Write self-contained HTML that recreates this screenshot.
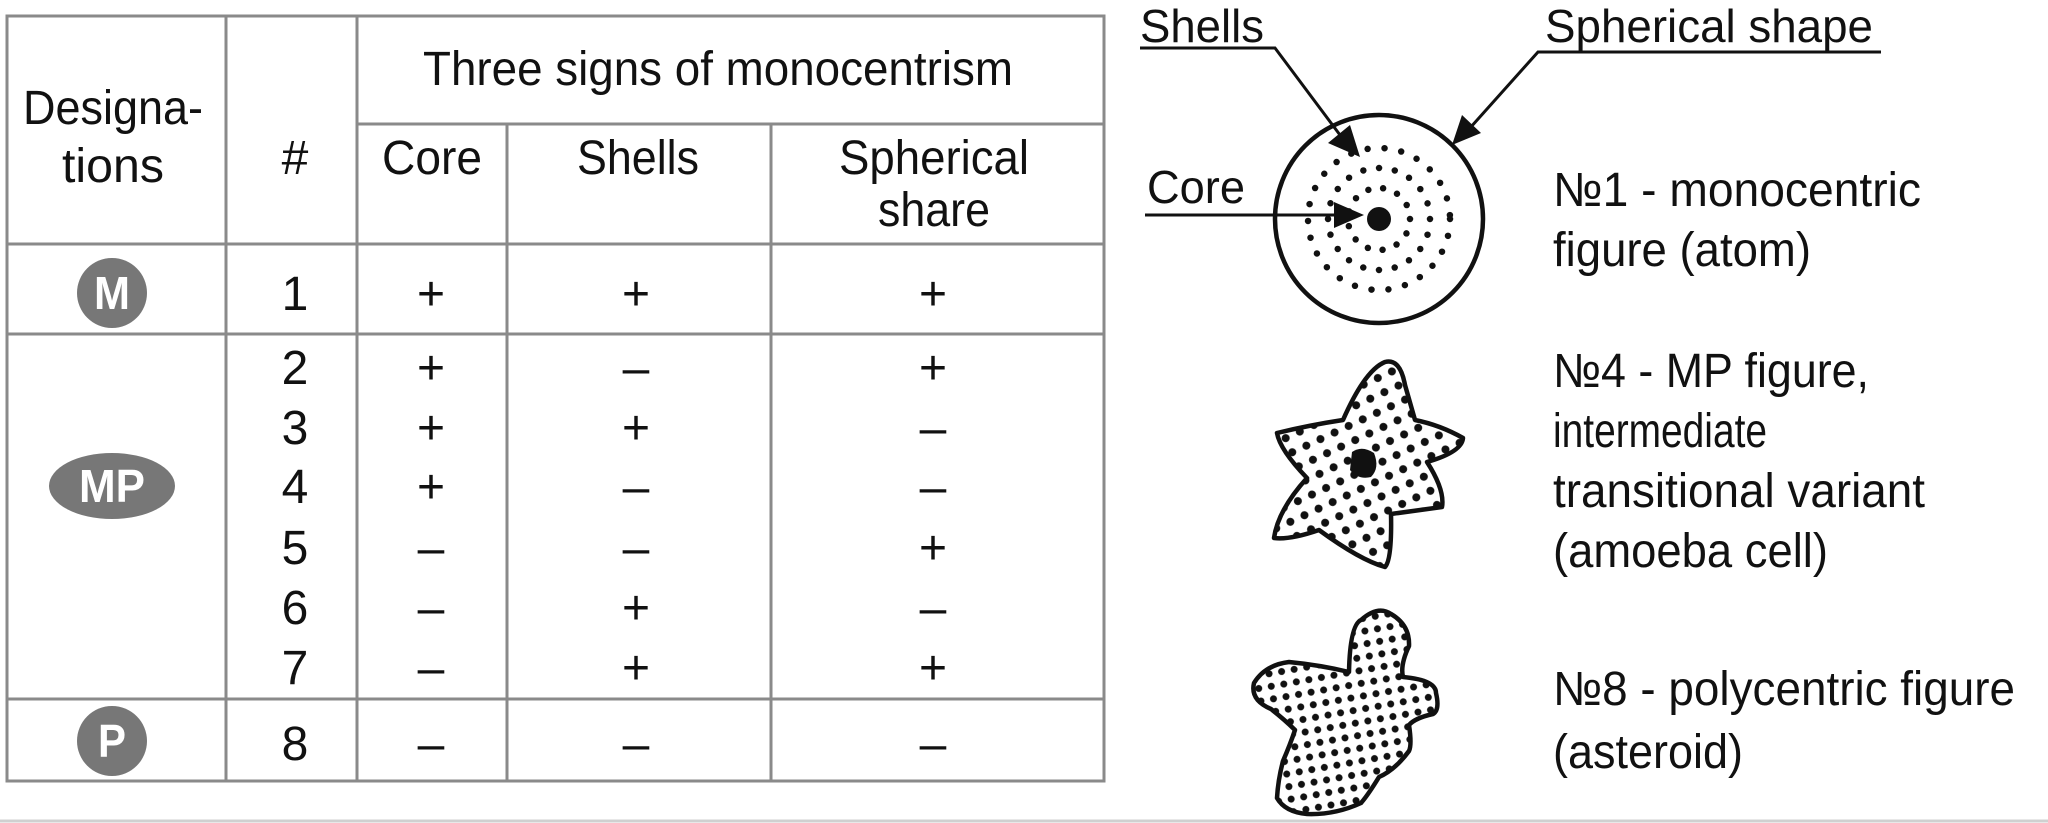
<!DOCTYPE html>
<html><head><meta charset="utf-8"><style>
html,body{margin:0;padding:0;background:#fff;}
svg{display:block;}
text{font-family:"Liberation Sans",Arial,sans-serif;fill:#111;}
</style></head><body>
<svg width="2048" height="823" viewBox="0 0 2048 823" xmlns="http://www.w3.org/2000/svg">
<defs>
<pattern id="dots" width="22" height="22" patternUnits="userSpaceOnUse" patternTransform="rotate(20)">
<circle cx="5" cy="5" r="4" fill="#111"/><circle cx="16" cy="16" r="4" fill="#111"/>
</pattern>
<pattern id="dots2" width="18" height="18" patternUnits="userSpaceOnUse" patternTransform="rotate(35)">
<circle cx="4" cy="4" r="3.5" fill="#111"/><circle cx="13" cy="13" r="3.5" fill="#111"/>
</pattern>
</defs>
<rect width="2048" height="823" fill="#fff"/>
<g stroke="#8a8a8a" stroke-width="3" fill="none">
<rect x="7" y="16" width="1097" height="765"/>
<line x1="226" y1="16" x2="226" y2="781"/>
<line x1="357" y1="16" x2="357" y2="781"/>
<line x1="507" y1="124" x2="507" y2="781"/>
<line x1="771" y1="124" x2="771" y2="781"/>
<line x1="357" y1="124" x2="1104" y2="124"/>
<line x1="7" y1="244" x2="1104" y2="244"/>
<line x1="7" y1="334" x2="1104" y2="334"/>
<line x1="7" y1="699" x2="1104" y2="699"/>
</g>
<g font-size="48" text-anchor="middle">
<text x="718" y="85" textLength="590" lengthAdjust="spacingAndGlyphs">Three signs of monocentrism</text>
<text x="113" y="124" textLength="180" lengthAdjust="spacingAndGlyphs">Designa-</text>
<text x="113" y="182" textLength="102" lengthAdjust="spacingAndGlyphs">tions</text>
<text x="295" y="174">#</text>
<text x="432" y="174" textLength="100" lengthAdjust="spacingAndGlyphs">Core</text>
<text x="638" y="174" textLength="122" lengthAdjust="spacingAndGlyphs">Shells</text>
<text x="934" y="174" textLength="190" lengthAdjust="spacingAndGlyphs">Spherical</text>
<text x="934" y="226" textLength="112" lengthAdjust="spacingAndGlyphs">share</text>
</g>
<g font-size="48" text-anchor="middle">
<text x="295" y="310">1</text><text x="431" y="310">+</text><text x="636" y="310">+</text><text x="933" y="310">+</text>
<text x="295" y="384">2</text><text x="431" y="384">+</text><text x="636" y="384">–</text><text x="933" y="384">+</text>
<text x="295" y="444">3</text><text x="431" y="444">+</text><text x="636" y="444">+</text><text x="933" y="444">–</text>
<text x="295" y="503">4</text><text x="431" y="503">+</text><text x="636" y="503">–</text><text x="933" y="503">–</text>
<text x="295" y="564">5</text><text x="431" y="564">–</text><text x="636" y="564">–</text><text x="933" y="564">+</text>
<text x="295" y="624">6</text><text x="431" y="624">–</text><text x="636" y="624">+</text><text x="933" y="624">–</text>
<text x="295" y="684">7</text><text x="431" y="684">–</text><text x="636" y="684">+</text><text x="933" y="684">+</text>
<text x="295" y="760">8</text><text x="431" y="760">–</text><text x="636" y="760">–</text><text x="933" y="760">–</text>
</g>
<circle cx="112" cy="293" r="35" fill="#777"/>
<ellipse cx="112" cy="486" rx="63" ry="33" fill="#777"/>
<circle cx="112" cy="741" r="35" fill="#777"/>
<g font-size="46" font-weight="bold" text-anchor="middle">
<text x="112" y="309" style="fill:#fff" textLength="36" lengthAdjust="spacingAndGlyphs">M</text>
<text x="112" y="502" style="fill:#fff" textLength="66" lengthAdjust="spacingAndGlyphs">MP</text>
<text x="112" y="757" style="fill:#fff" textLength="28" lengthAdjust="spacingAndGlyphs">P</text>
</g>
<circle cx="1379" cy="219" r="104" fill="none" stroke="#111" stroke-width="4.5"/>
<g fill="none" stroke="#111" stroke-width="6.5" stroke-linecap="round">
<circle cx="1379" cy="219" r="71" stroke-dasharray="0 17"/>
<circle cx="1379" cy="219" r="51" stroke-dasharray="0 16"/>
<circle cx="1379" cy="219" r="31" stroke-dasharray="0 15"/>
</g>
<circle cx="1379" cy="219" r="12" fill="#111"/>
<g stroke="#111" stroke-width="3" fill="none">
<polyline points="1140,48 1275,48 1340,135"/>
<polyline points="1881,52 1538,52 1470,128"/>
<line x1="1145" y1="215" x2="1340" y2="215"/>
</g>
<polygon points="1360,157 1328,143 1350,125" fill="#111"/>
<polygon points="1452,145 1462,115 1481,133" fill="#111"/>
<polygon points="1364,215 1334,202 1334,228" fill="#111"/>
<g font-size="46">
<text x="1140" y="42" textLength="124" lengthAdjust="spacingAndGlyphs">Shells</text>
<text x="1545" y="42" textLength="328" lengthAdjust="spacingAndGlyphs">Spherical shape</text>
<text x="1147" y="203" textLength="98" lengthAdjust="spacingAndGlyphs">Core</text>
</g>
<path d="M1385,362 Q1400,358 1405,385 L1415,420 Q1440,425 1463,438 Q1462,452 1427,462 Q1445,490 1442,507 Q1420,510 1391,514 Q1392,560 1385,567 Q1360,560 1319,530 Q1290,540 1274,538 Q1278,510 1307,478 Q1280,450 1277,433 Q1310,425 1343,420 Q1365,370 1385,362 Z" fill="url(#dots)" stroke="#111" stroke-width="4.5" stroke-linejoin="round"/>
<path d="M1352,452 Q1362,445 1374,453 Q1380,468 1371,477 Q1358,480 1350,470 Z" fill="#111"/>
<path d="M1254,683 Q1265,665 1289,662 Q1320,665 1349,672 Q1350,625 1361,620 Q1378,605 1391,614 Q1410,625 1409,646 Q1400,665 1403,677 Q1436,680 1436,693 Q1440,710 1433,714 Q1415,718 1409,725 Q1412,745 1409,751 Q1395,770 1379,777 Q1368,795 1361,803 Q1335,815 1307,814 Q1285,812 1277,798 Q1278,780 1283,761 Q1290,745 1295,730 Q1285,720 1271,709 Q1250,700 1254,683 Z" fill="url(#dots2)" stroke="#111" stroke-width="4.5" stroke-linejoin="round"/>
<g font-size="48">
<text x="1553" y="206" textLength="368" lengthAdjust="spacingAndGlyphs">№1 - monocentric</text>
<text x="1553" y="266" textLength="258" lengthAdjust="spacingAndGlyphs">figure (atom)</text>
<text x="1553" y="387" textLength="316" lengthAdjust="spacingAndGlyphs">№4 - MP figure,</text>
<text x="1553" y="447" textLength="214" lengthAdjust="spacingAndGlyphs">intermediate</text>
<text x="1553" y="507" textLength="372" lengthAdjust="spacingAndGlyphs">transitional variant</text>
<text x="1553" y="567" textLength="275" lengthAdjust="spacingAndGlyphs">(amoeba cell)</text>
<text x="1553" y="705" textLength="462" lengthAdjust="spacingAndGlyphs">№8 - polycentric figure</text>
<text x="1553" y="768" textLength="190" lengthAdjust="spacingAndGlyphs">(asteroid)</text>
</g>
<line x1="0" y1="821" x2="2048" y2="821" stroke="#d0d0d0" stroke-width="3"/>
</svg>
</body></html>
